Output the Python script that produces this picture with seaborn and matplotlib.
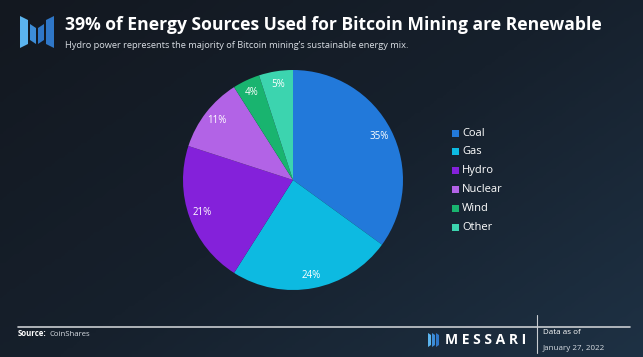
import numpy as np
import matplotlib.pyplot as plt
import seaborn as sns
from matplotlib.patches import Polygon, Rectangle
from matplotlib.lines import Line2D

# Data
sources = ['Coal', 'Gas', 'Hydro', 'Nuclear', 'Wind', 'Other']
shares = [35, 24, 21, 11, 4, 5]
colors = ['#2279DA', '#0DBAE1', '#8421DA', '#B263E6', '#19B46F', '#3CD4AF']

sns.set_theme(style='dark')
plt.rcParams['font.family'] = ['Open Sans', 'DejaVu Sans']

W, H = 643, 357
fig = plt.figure(figsize=(W / 100, H / 100), dpi=100)

# background gradient
bg = fig.add_axes([0, 0, 1, 1])
xx, yy = np.meshgrid(np.linspace(0, 1, 200), np.linspace(0, 1, 120))
grad = 0.55 * xx + 0.45 * yy
bg.imshow(grad, cmap=sns.blend_palette(['#131820', '#16202c', '#1e3144'], as_cmap=True),
          extent=[0, W, H, 0], aspect='auto')
bg.set_xlim(0, W)
bg.set_ylim(H, 0)
bg.axis('off')

# logo
logo = [
    ([(20, 16), (28, 20), (28, 44), (20, 48)], '#5BB4EE'),
    ([(30, 24), (36, 28), (36, 44), (30, 40)], '#3D8DD8'),
    ([(38, 28), (44, 24), (44, 40), (38, 44)], '#2F77C8'),
    ([(46, 20), (54, 16), (54, 48), (46, 44)], '#2F77C8'),
]
for pts, c in logo:
    bg.add_patch(Polygon(pts, closed=True, color=c, lw=0))

bg.text(65, 25, '39% of Energy Sources Used for Bitcoin Mining are Renewable',
        color='white', fontsize=12.6, fontweight='bold', va='center', ha='left')
bg.text(65, 45, "Hydro power represents the majority of Bitcoin mining’s sustainable energy mix.",
        color='#d8dde3', fontsize=6.7, va='center', ha='left')

# footer
bg.add_line(Line2D([18, 630], [327, 327], color='#c8ccd0', lw=1.2))
bg.add_line(Line2D([537, 537], [315, 353], color='#c8ccd0', lw=0.8))
src_lbl = bg.text(18, 334, 'Source:', color='white', fontsize=5.6, fontweight='bold', va='center')
bg.annotate('CoinShares', xy=(1, 0.5), xycoords=src_lbl, xytext=(2, 0),
            textcoords='offset points', color='#d8dde3', fontsize=5.6, va='center')
bg.text(543, 333, 'Data as of', color='white', fontsize=5.8, va='center')
bg.text(543, 349, 'January 27, 2022', color='#d8dde3', fontsize=5.8, va='center')
for i, (x0, c) in enumerate([(428, '#5BB4EE'), (432, '#3D8DD8'), (436, '#2F77C8')]):
    bg.add_patch(Polygon([(x0, 333), (x0 + 3, 335), (x0 + 3, 345), (x0, 347)],
                         closed=True, color=c, lw=0))
bg.text(445, 340, 'M E S S A R I', color='white', fontsize=10, fontweight='bold', va='center')

# pie
cx, cy, r = 293, 180, 110
ax = fig.add_axes([(cx - r) / W, 1 - (cy + r) / H, 2 * r / W, 2 * r / H])
ax.pie(shares, colors=colors, startangle=90, counterclock=False,
       autopct='%d%%', pctdistance=0.88,
       textprops=dict(color='white', fontsize=7),
       wedgeprops=dict(linewidth=0))
ax.set_aspect('auto')
ax.set_xlim(-1, 1)
ax.set_ylim(-1, 1)
ax.axis('off')

# legend
for i, (s, c) in enumerate(zip(sources, colors)):
    y = 133 + i * 18.8
    bg.add_patch(Rectangle((452, y - 3.5), 7, 7, color=c, lw=0))
    bg.text(462, y, s, color='white', fontsize=8, va='center', ha='left')

fig.savefig('out.png', dpi=100)
